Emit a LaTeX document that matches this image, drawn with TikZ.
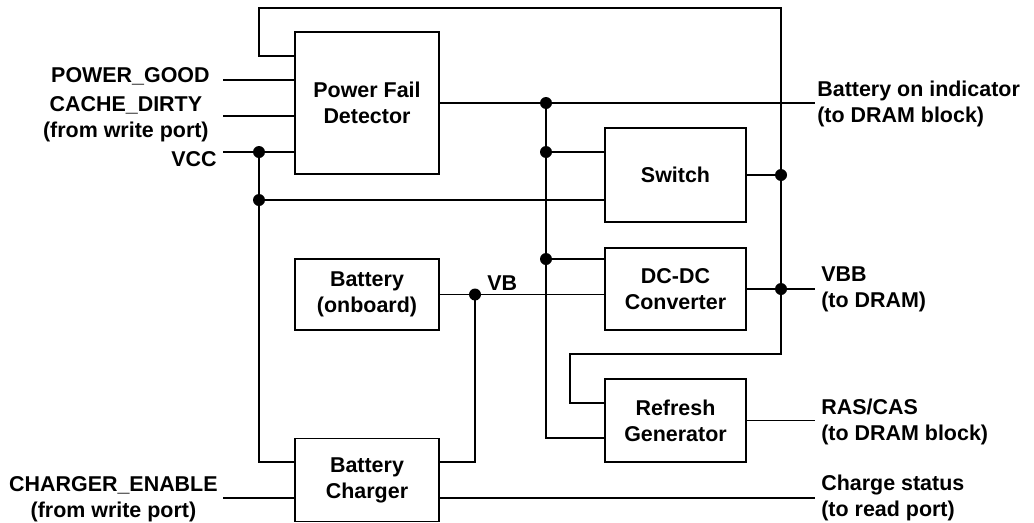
\documentclass[tikz,border=0pt]{standalone}
\usepackage{fontspec}
\setmainfont{Liberation Sans}
\usetikzlibrary{positioning,calc}
\tikzset{
  blk/.style={draw, line width=0.9pt, align=center, inner sep=0pt},
  jdot/.style={circle, fill, inner sep=0pt, minimum size=2.4mm},
  wire/.style={line width=0.9pt},
  lab/.style={inner sep=0pt, align=center},
  rlab/.style={inner xsep=1.2mm, inner ysep=0pt, anchor=west, align=left},
}

\begin{document}
\begin{tikzpicture}[x=0.2mm, y=-0.2mm, font=\fontsize{12.2}{14.8}\selectfont\bfseries]
  \useasboundingbox (0,0) rectangle (1034,523);
  % blocks
  \node[blk, minimum width=28.8mm, minimum height=28.4mm] (pfd) at (367,103) {Power Fail\\Detector};
  \node[blk, minimum width=28.2mm, minimum height=18.8mm] (sw) at (675.5,175) {Switch};
  \node[blk, minimum width=28.2mm, minimum height=16.4mm] (dcdc) at (675.5,289) {DC-DC\\Converter};
  \node[blk, minimum width=28.2mm, minimum height=16.6mm] (ref) at (675.5,420.5) {Refresh\\Generator};
  \node[blk, minimum width=28.8mm, minimum height=14.2mm] (bat) at (367,294.5) {Battery\\(onboard)};
  \node[blk, minimum width=28.8mm, minimum height=16.6mm] (chg) at (367,480) {Battery\\Charger};

  % labels
  \node[lab, anchor=east] (pg) at (210,76) {POWER\_GOOD};
  \node[lab, anchor=east] (cd) at (209,119) {CACHE\_DIRTY\\(from write port)};
  \node[lab, anchor=east] (vcc) at (217,159) {VCC};
  \node[lab, anchor=east] (ce) at (218,499) {CHARGER\_ENABLE\\(from write port)};
  \node[rlab, inner xsep=0.4mm] (boi) at (815,104) {Battery on indicator\\(to DRAM block)};
  \node[rlab] (vbb) at (815,289.5) {VBB\\(to DRAM)};
  \node[rlab] (ras) at (815,422) {RAS/CAS\\(to DRAM block)};
  \node[rlab] (cst) at (815,498) {Charge status\\(to read port)};
  \node[lab, anchor=west] (vb) at (487,283) {VB};

  % junctions and bends
  \coordinate (pgin) at (223,80);
  \coordinate (cdin) at (223,116);
  \coordinate (vccin) at (223,152);
  \coordinate (ltop) at (259,8);
  \coordinate (rtop) at (781,8);
  \coordinate (rbot) at (781,354);
  \coordinate (rfl) at (570,354);
  \coordinate (jvcc) at (259,152);
  \coordinate (jsw) at (259,200);
  \coordinate (jbo) at (546,103);
  \coordinate (jsw1) at (546,152);
  \coordinate (jdc1) at (546,259);
  \coordinate (jvb) at (475,294.5);
  \coordinate (jso) at (sw.east -| rtop);
  \coordinate (jdo) at (dcdc.east -| rtop);

  % wires
  \draw[wire] (pgin) -- (pgin -| pfd.west);
  \draw[wire] (cdin) -- (cdin -| pfd.west);
  \draw[wire] (vccin) -- (vccin -| pfd.west);
  \draw[wire] ([yshift=9.4mm]pfd.west) -| (ltop) -- (rtop) -- (rbot) -- (rfl) |- ([yshift=3.5mm]ref.west);
  \draw[wire] (pfd.east) -- (pfd.east -| boi.west);
  \draw[wire] (jbo) |- ([yshift=-3.5mm]ref.west);
  \draw[wire] (jsw1) -- (jsw1 -| sw.west);
  \draw[wire] (jdc1) -- (jdc1 -| dcdc.west);
  \draw[wire] (jvcc) |- ([yshift=3.6mm]chg.west);
  \draw[wire] (jsw) -- (jsw -| sw.west);
  \draw[wire] (bat.east) -- (bat.east -| dcdc.west);
  \draw[wire] (jvb) |- ([yshift=3.6mm]chg.east);
  \draw[wire] (sw.east) -- (jso);
  \draw[wire] (dcdc.east) -- (dcdc.east -| vbb.west);
  \draw[wire] (ref.east) -- (ref.east -| ras.west);
  \draw[wire] ([yshift=-3.6mm]chg.east) -- ([yshift=-3.6mm]chg.east -| cst.west);
  \draw[wire] ([yshift=-3.6mm]chg.west -| pgin) -- ([yshift=-3.6mm]chg.west);

  % dots
  \foreach \j in {jvcc,jsw,jbo,jsw1,jdc1,jvb,jso,jdo}
    \node[jdot] (d-\j) at (\j) {};
\end{tikzpicture}
\end{document}
